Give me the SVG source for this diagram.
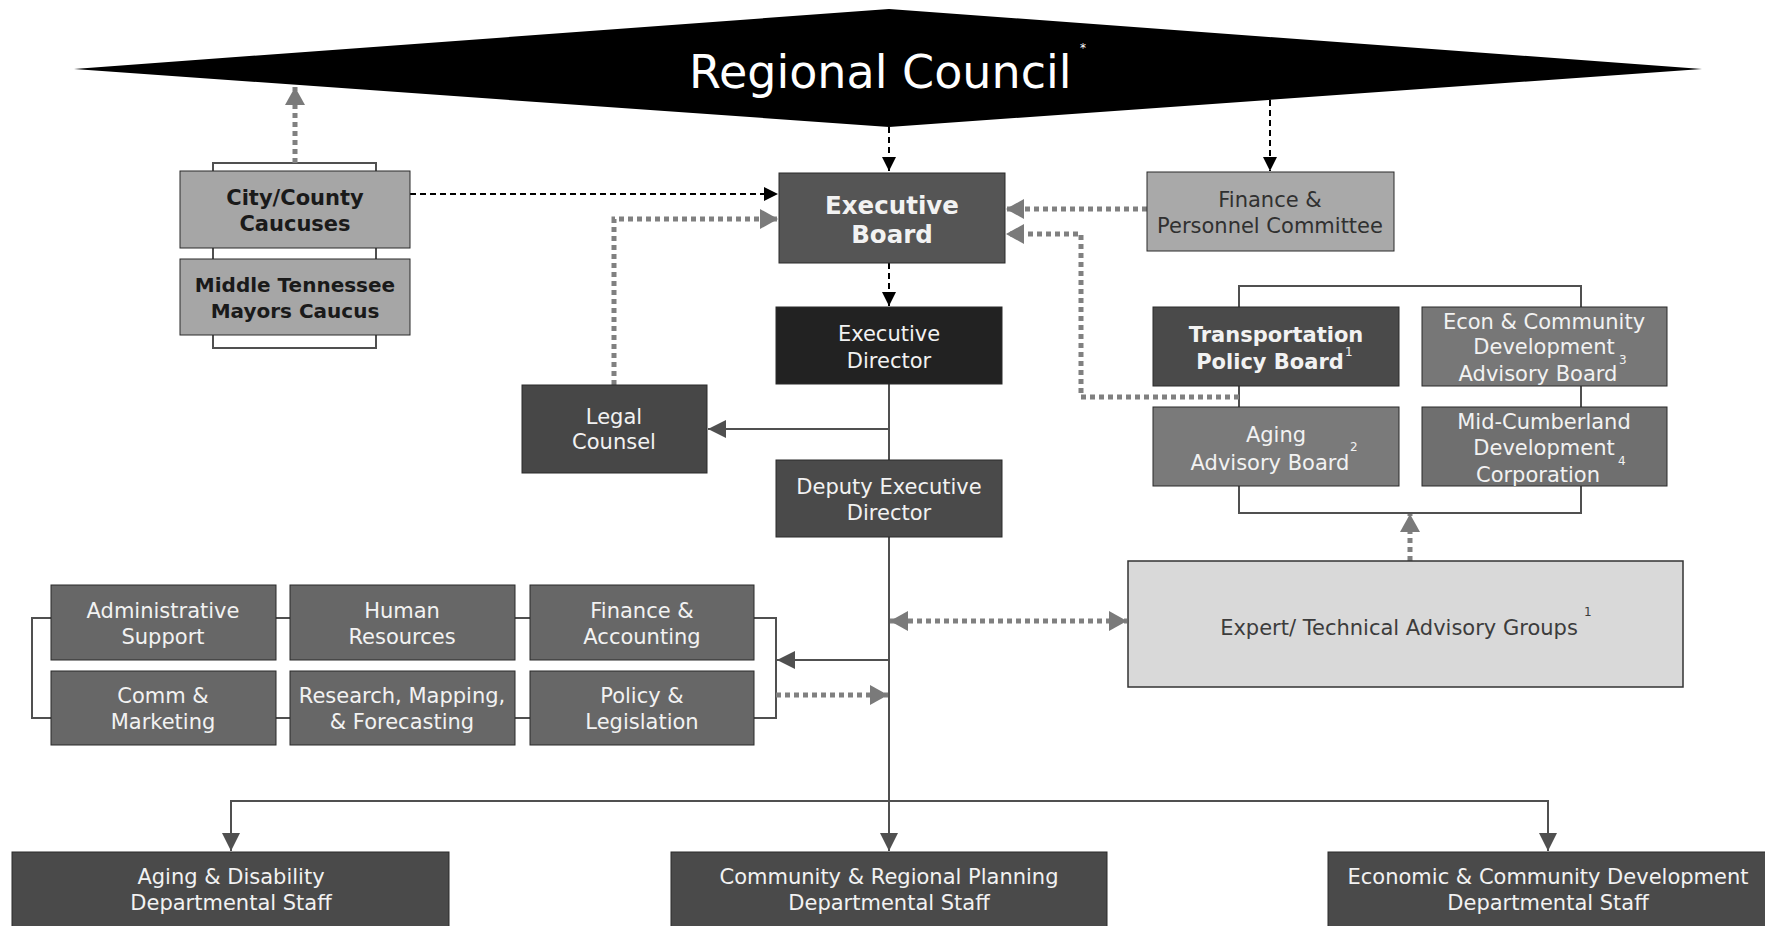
<svg xmlns="http://www.w3.org/2000/svg" width="1765" height="926" viewBox="0 0 1765 926">
<style>
.t{font-family:"DejaVu Sans","Liberation Sans",sans-serif;font-size:21px;text-anchor:middle;fill:#f2f2f2}
.b{font-weight:bold}
.dk{fill:#1a1a1a}
.gr{fill:#303030}
.sup{font-family:"DejaVu Sans","Liberation Sans",sans-serif;font-size:12px;fill:#f2f2f2}
.box{stroke:#2a2a2a;stroke-width:1}
.brk{fill:none;stroke:#505050;stroke-width:2}
.solid{fill:none;stroke:#505050;stroke-width:2}
.dash{fill:none;stroke:#000;stroke-width:2;stroke-dasharray:6 4}
.dot{fill:none;stroke:#808080;stroke-width:5;stroke-dasharray:5 4}
</style>
<defs>
<marker id="ab" markerUnits="userSpaceOnUse" markerWidth="14" markerHeight="14" refX="14" refY="7" orient="auto"><path d="M0,0 L14,7 L0,14 z" fill="#000"/></marker>
<marker id="ag" markerUnits="userSpaceOnUse" markerWidth="18" markerHeight="20" refX="18" refY="10" orient="auto-start-reverse"><path d="M0,0 L18,10 L0,20 z" fill="#7a7a7a"/></marker>
<marker id="ad" markerUnits="userSpaceOnUse" markerWidth="18" markerHeight="18" refX="18" refY="9" orient="auto"><path d="M0,0 L18,9 L0,18 z" fill="#505050"/></marker>
</defs>
<rect width="1765" height="926" fill="#fff"/>

<g id="regional-council">
<polygon points="74,69 889,9 1702,69 889,127" fill="#000"/>
<text x="689" y="88" font-family="DejaVu Sans, Liberation Sans, sans-serif" font-size="46" fill="#fff">Regional Council</text>
<text x="1080" y="52" font-family="DejaVu Sans, sans-serif" font-size="12" fill="#fff">*</text>
</g>

<g id="brackets">
<rect class="brk" x="213" y="163" width="163" height="185"/>
<rect class="brk" x="1239" y="286" width="342" height="227"/>
<rect class="brk" x="32" y="618" width="744" height="100"/>
</g>

<g id="connectors">
<path class="dash" d="M889,127 V171" marker-end="url(#ab)"/>
<path class="dash" d="M1270,100 V171" marker-end="url(#ab)"/>
<path class="dash" d="M410,194 H778" marker-end="url(#ab)"/>
<path class="dash" d="M889,263 V306" marker-end="url(#ab)"/>
<path class="dot" d="M295,163 V87" marker-end="url(#ag)"/>
<path class="dot" d="M1147,209 H1006" marker-end="url(#ag)"/>
<path class="dot" d="M1239,397 H1081 V234 H1006" marker-end="url(#ag)"/>
<path class="dot" d="M614,385 V219 H778" marker-end="url(#ag)"/>
<path class="dot" d="M1410,561 V514" marker-end="url(#ag)"/>
<path class="dot" d="M890,621 H1127" marker-start="url(#ag)" marker-end="url(#ag)"/>
<path class="dot" d="M776,695 H888" marker-end="url(#ag)"/>
<path class="solid" d="M889,384 V460"/>
<path class="solid" d="M889,537 V851" marker-end="url(#ad)"/>
<path class="solid" d="M889,429 H708" marker-end="url(#ad)"/>
<path class="solid" d="M889,660 H777" marker-end="url(#ad)"/>
<path class="solid" d="M889,801 H231 V851" marker-end="url(#ad)"/>
<path class="solid" d="M889,801 H1548 V851" marker-end="url(#ad)"/>
</g>

<g id="city-county-caucuses">
<rect class="box" x="180" y="171" width="230" height="77" fill="#a6a6a6"/>
<text class="t b dk" x="295" y="205">City/County</text>
<text class="t b dk" x="295" y="231">Caucuses</text>
</g>
<g id="mayors-caucus">
<rect class="box" x="180" y="259" width="230" height="76" fill="#a6a6a6"/>
<text class="t b dk" x="295" y="292" style="font-size:20px">Middle Tennessee</text>
<text class="t b dk" x="295" y="318" style="font-size:20px">Mayors Caucus</text>
</g>
<g id="executive-board">
<rect class="box" x="779" y="173" width="226" height="90" fill="#555"/>
<text class="t b" x="892" y="214" style="font-size:24.5px">Executive</text>
<text class="t b" x="892" y="243" style="font-size:24.5px">Board</text>
</g>
<g id="finance-personnel">
<rect class="box" x="1147" y="172" width="247" height="79" fill="#a9a9a9"/>
<text class="t gr" x="1270" y="207">Finance &amp;</text>
<text class="t gr" x="1270" y="233">Personnel Committee</text>
</g>
<g id="executive-director">
<rect class="box" x="776" y="307" width="226" height="77" fill="#222"/>
<text class="t" x="889" y="341">Executive</text>
<text class="t" x="889" y="368">Director</text>
</g>
<g id="legal-counsel">
<rect class="box" x="522" y="385" width="185" height="88" fill="#474747"/>
<text class="t" x="614" y="424">Legal</text>
<text class="t" x="614" y="449">Counsel</text>
</g>
<g id="deputy-executive-director">
<rect class="box" x="776" y="460" width="226" height="77" fill="#4a4a4a"/>
<text class="t" x="889" y="494">Deputy Executive</text>
<text class="t" x="889" y="520">Director</text>
</g>
<g id="transportation-policy-board">
<rect class="box" x="1153" y="307" width="246" height="79" fill="#4a4a4a"/>
<text class="t b" x="1276" y="342">Transportation</text>
<text class="t b" x="1270" y="369">Policy Board</text>
<text class="sup" x="1345" y="356">1</text>
</g>
<g id="econ-community-advisory-board">
<rect class="box" x="1422" y="307" width="245" height="79" fill="#777"/>
<text class="t" x="1544" y="329">Econ &amp; Community</text>
<text class="t" x="1544" y="354">Development</text>
<text class="t" x="1538" y="381">Advisory Board</text>
<text class="sup" x="1619" y="364">3</text>
</g>
<g id="aging-advisory-board">
<rect class="box" x="1153" y="407" width="246" height="79" fill="#7a7a7a"/>
<text class="t" x="1276" y="442">Aging</text>
<text class="t" x="1270" y="470">Advisory Board</text>
<text class="sup" x="1350" y="451">2</text>
</g>
<g id="mid-cumberland">
<rect class="box" x="1422" y="407" width="245" height="79" fill="#6f6f6f"/>
<text class="t" x="1544" y="429">Mid-Cumberland</text>
<text class="t" x="1544" y="455">Development</text>
<text class="t" x="1538" y="482">Corporation</text>
<text class="sup" x="1618" y="465">4</text>
</g>
<g id="expert-technical-advisory-groups">
<rect x="1128" y="561" width="555" height="126" fill="#d9d9d9" stroke="#333" stroke-width="1.5"/>
<text class="t" x="1399" y="635" style="fill:#3c3c3c">Expert/ Technical Advisory Groups</text>
<text class="sup" x="1584" y="616" style="fill:#3c3c3c">1</text>
</g>
<g id="administrative-support">
<rect class="box" x="51" y="585" width="225" height="75" fill="#676767"/>
<text class="t" x="163" y="618">Administrative</text>
<text class="t" x="163" y="644">Support</text>
</g>
<g id="human-resources">
<rect class="box" x="290" y="585" width="225" height="75" fill="#676767"/>
<text class="t" x="402" y="618">Human</text>
<text class="t" x="402" y="644">Resources</text>
</g>
<g id="finance-accounting">
<rect class="box" x="530" y="585" width="224" height="75" fill="#676767"/>
<text class="t" x="642" y="618">Finance &amp;</text>
<text class="t" x="642" y="644">Accounting</text>
</g>
<g id="comm-marketing">
<rect class="box" x="51" y="671" width="225" height="74" fill="#676767"/>
<text class="t" x="163" y="703">Comm &amp;</text>
<text class="t" x="163" y="729">Marketing</text>
</g>
<g id="research-mapping-forecasting">
<rect class="box" x="290" y="671" width="225" height="74" fill="#676767"/>
<text class="t" x="402" y="703">Research, Mapping,</text>
<text class="t" x="402" y="729">&amp; Forecasting</text>
</g>
<g id="policy-legislation">
<rect class="box" x="530" y="671" width="224" height="74" fill="#676767"/>
<text class="t" x="642" y="703">Policy &amp;</text>
<text class="t" x="642" y="729">Legislation</text>
</g>
<g id="aging-disability-staff">
<rect class="box" x="12" y="852" width="437" height="80" fill="#4a4a4a"/>
<text class="t" x="231" y="884">Aging &amp; Disability</text>
<text class="t" x="231" y="910">Departmental Staff</text>
</g>
<g id="community-regional-planning-staff">
<rect class="box" x="671" y="852" width="436" height="80" fill="#4a4a4a"/>
<text class="t" x="889" y="884">Community &amp; Regional Planning</text>
<text class="t" x="889" y="910">Departmental Staff</text>
</g>
<g id="economic-community-development-staff">
<rect class="box" x="1328" y="852" width="440" height="80" fill="#4a4a4a"/>
<text class="t" x="1548" y="884">Economic &amp; Community Development</text>
<text class="t" x="1548" y="910">Departmental Staff</text>
</g>
</svg>
